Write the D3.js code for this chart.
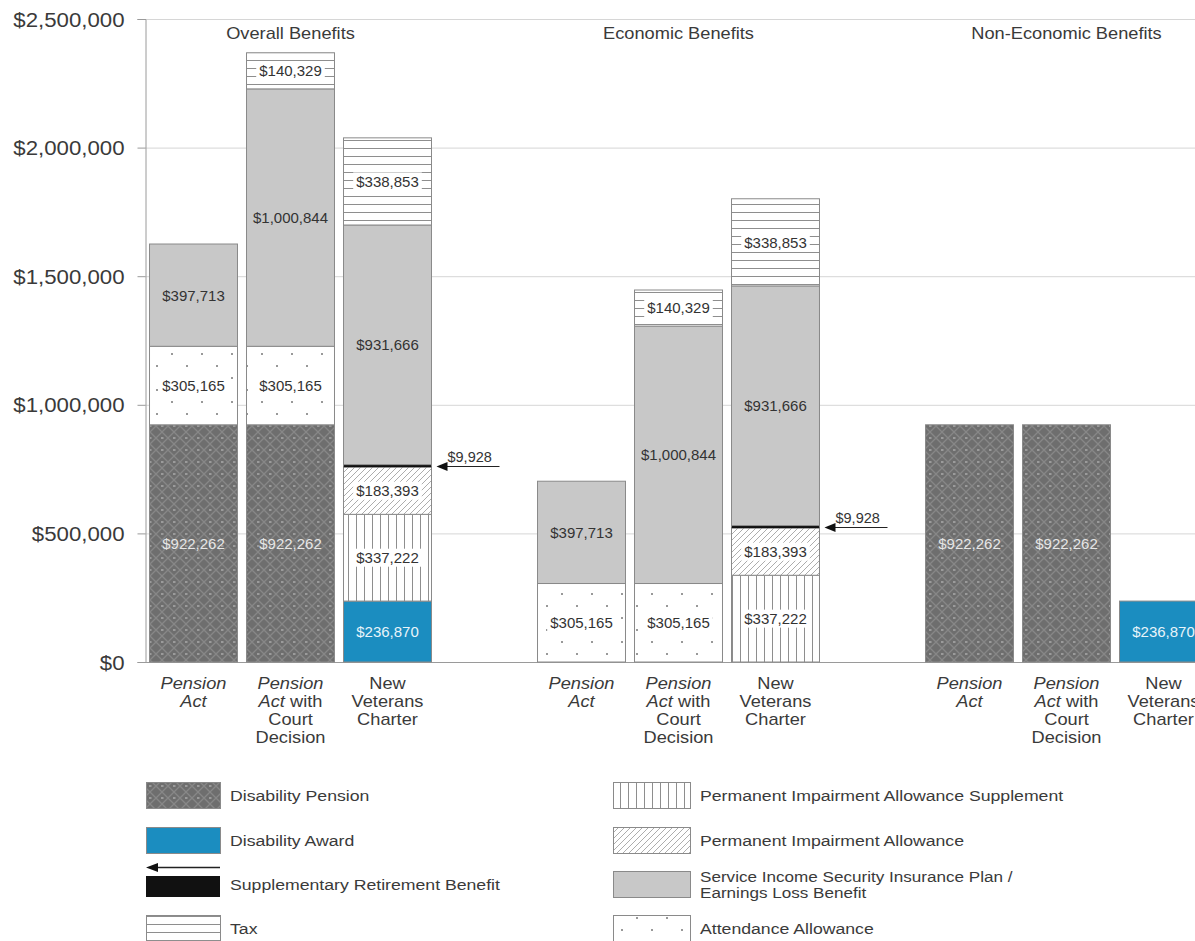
<!DOCTYPE html>
<html>
<head>
<meta charset="utf-8">
<script src="https://cdn.jsdelivr.net/npm/d3@7"></script>
<style>
  html, body { margin: 0; padding: 0; background: #fff; }
  svg { display: block; font-family: "Liberation Sans", Arial, Helvetica, sans-serif; }
</style>
</head>
<body>
<svg id="chart" width="1195" height="941"></svg>
<script>
// ---------------- DATA ----------------
const groups = ["Overall Benefits", "Economic Benefits", "Non-Economic Benefits"];
const scenarios = ["Pension Act", "Pension Act with Court Decision", "New Veterans Charter"];
const scenarioTickLines = [["Pension", "Act"], ["Pension", "Act with", "Court", "Decision"], ["New", "Veterans", "Charter"]];
const yTicks = [0, 500000, 1000000, 1500000, 2000000, 2500000];

// stacking order, bottom to top
const seriesKeys = ["dp", "da", "pias", "pia", "srb", "aa", "elb", "tax"];
const seriesNames = {
  dp: "Disability Pension",
  da: "Disability Award",
  srb: "Supplementary Retirement Benefit",
  tax: "Tax",
  pias: "Permanent Impairment Allowance Supplement",
  pia: "Permanent Impairment Allowance",
  elb: "Service Income Security Insurance Plan / Earnings Loss Benefit",
  aa: "Attendance Allowance"
};
const legendLeft = ["dp", "da", "srb", "tax"];
const legendRight = ["pias", "pia", "elb", "aa"];

// values per bar: [Overall PA, PACD, NVC, Economic PA, PACD, NVC, Non-Economic PA, PACD, NVC]
const disabilityPension       = [922262, 922262, 0,      0,      0,       0,      922262, 922262, 0];
const disabilityAward         = [0,      0,      236870, 0,      0,       0,      0,      0,      236870];
const piaSupplement           = [0,      0,      337222, 0,      0,       337222, 0,      0,      0];
const permImpairmentAllowance = [0,      0,      183393, 0,      0,       183393, 0,      0,      0];
const suppRetirementBenefit   = [0,      0,      9928,   0,      0,       9928,   0,      0,      0];
const attendanceAllowance     = [305165, 305165, 0,      305165, 305165,  0,      0,      0,      0];
const earningsLossBenefit     = [397713, 1000844, 931666, 397713, 1000844, 931666, 0,     0,      0];
const tax                     = [0,      140329, 338853, 0,      140329,  338853, 0,      0,      0];

// ---------------- BUILD ROWS ----------------
const seriesValues = { dp: disabilityPension, da: disabilityAward, pias: piaSupplement, pia: permImpairmentAllowance,
  srb: suppRetirementBenefit, aa: attendanceAllowance, elb: earningsLossBenefit, tax: tax };
const rows = [];
groups.forEach((g, gi) => scenarios.forEach((s, si) => {
  const i = gi * scenarios.length + si;
  const r = { group: g, scenario: s };
  seriesKeys.forEach(k => r[k] = seriesValues[k][i]);
  rows.push(r);
}));
const stacked = d3.stack().keys(seriesKeys)(rows);

// ---------------- SCALES ----------------
const svg = d3.select("#chart");
const W = 1195;
const plotLeft = 145, plotRight = 1195;
const y = d3.scaleLinear().domain([0, 2500000]).range([662, 19]);
const gx = d3.scaleBand().domain(groups).range([plotLeft, plotLeft + 388 * 3]).padding(0);
const sx = d3.scaleBand().domain(scenarios).range([0, 291]).paddingInner(0.093).paddingOuter(0.0465);
const barX = d => gx(d.group) + sx(d.scenario);
const STRETCH = 1.14;

// ---------------- PATTERNS ----------------
const defs = svg.append("defs");
function pat(id, w, h, bg) {
  const p = defs.append("pattern").attr("id", id).attr("patternUnits", "userSpaceOnUse")
    .attr("width", w).attr("height", h);
  p.append("rect").attr("width", w).attr("height", h).attr("fill", bg);
  return p;
}
let p;
p = pat("p-dp", 12, 12, "#6e6e6e");
p.append("path").attr("d", "M0,6L6,0L12,6L6,12Z").attr("fill", "none").attr("stroke", "#878787").attr("stroke-width", 1.3);
p.append("rect").attr("x", 5).attr("y", 5.5).attr("width", 2.5).attr("height", 1).attr("fill", "#c8c8c8");
p = pat("p-tax", 8, 8, "#ffffff");
p.append("line").attr("x1", 0).attr("x2", 8).attr("y1", 4.5).attr("y2", 4.5).attr("stroke", "#8e8e8e").attr("stroke-width", 1);
p = pat("p-pias", 8, 8, "#ffffff");
p.append("line").attr("y1", 0).attr("y2", 8).attr("x1", 4.5).attr("x2", 4.5).attr("stroke", "#8e8e8e").attr("stroke-width", 1);
p = pat("p-pia", 6, 6, "#ffffff");
p.append("path").attr("d", "M0,6L6,0M-1,1L1,-1M5,7L7,5").attr("stroke", "#adadad").attr("stroke-width", 1);
p = pat("p-aa", 30, 24, "#ffffff");
p.append("circle").attr("cx", 7).attr("cy", 6).attr("r", 1).attr("fill", "#777");
p.append("circle").attr("cx", 22).attr("cy", 18).attr("r", 1).attr("fill", "#777");

const fills = {
  dp: "url(#p-dp)", da: "#1b8dc0", pias: "url(#p-pias)", pia: "url(#p-pia)",
  srb: "#111111", aa: "url(#p-aa)", elb: "#c8c8c8", tax: "url(#p-tax)"
};
const labelColor = { dp: "#e6e6e6", da: "#e8f4fa" };
const bgLabel = { tax: true, pias: true, pia: true, aa: true };

function stext(parent, x, yy, txt, size, anchor, stretch) {
  return parent.append("text")
    .attr("transform", `translate(${x},${yy}) scale(${stretch === undefined ? STRETCH : stretch},1)`)
    .attr("text-anchor", anchor || "start")
    .style("font-size", size + "px")
    .attr("fill", "#333")
    .text(txt);
}

// ---------------- GRID & AXIS ----------------
svg.append("g").selectAll("line").data(yTicks).join("line")
  .attr("x1", plotLeft).attr("x2", plotRight)
  .attr("y1", d => y(d) + 0.5).attr("y2", d => y(d) + 0.5)
  .attr("stroke", d => d === 0 ? "#9a9a9a" : "#d6d6d6").attr("stroke-width", 1);

const yAxis = d3.axisLeft(y).tickValues(yTicks).tickFormat(d3.format("$,")).tickSize(8);
const ya = svg.append("g").attr("transform", `translate(${plotLeft + 0.5},0)`).call(yAxis);
ya.select(".domain").attr("stroke", "#9a9a9a");
ya.selectAll(".tick line").attr("stroke", "#9a9a9a");
ya.selectAll(".tick text")
  .attr("x", null).attr("dy", "0.36em")
  .attr("transform", `translate(-21,0) scale(${STRETCH},1)`)
  .style("font-size", "19.5px").attr("fill", "#3a3a3a")
  .style("font-family", "'Liberation Sans', Arial, sans-serif");

// ---------------- BARS ----------------
const barsG = svg.append("g");
stacked.forEach(layer => {
  const key = layer.key;
  layer.forEach((seg, i) => {
    const v = seg[1] - seg[0];
    if (v <= 0) return;
    const d = rows[i];
    barsG.append("rect")
      .attr("x", barX(d)).attr("width", sx.bandwidth())
      .attr("y", y(seg[1])).attr("height", y(seg[0]) - y(seg[1]))
      .attr("fill", fills[key])
      .attr("stroke", key === "srb" ? "none" : "#8a8a8a").attr("stroke-width", 1);
  });
});

// segment labels
const labelsG = svg.append("g");
stacked.forEach(layer => {
  const key = layer.key;
  if (key === "srb") return;
  layer.forEach((seg, i) => {
    const v = seg[1] - seg[0];
    if (v <= 0) return;
    const d = rows[i];
    const cx = barX(d) + sx.bandwidth() / 2;
    const cy = y((seg[0] + seg[1]) / 2);
    const t = labelsG.append("text")
      .attr("x", cx).attr("y", cy).attr("dy", "0.36em")
      .attr("text-anchor", "middle").style("font-size", "15px")
      .attr("fill", labelColor[key] || "#333")
      .text(d3.format("$,")(v));
    if (bgLabel[key]) {
      const w = t.node().getComputedTextLength();
      labelsG.insert("rect", () => t.node())
        .attr("x", cx - w / 2 - 3).attr("y", cy - 9).attr("width", w + 6).attr("height", 18)
        .attr("fill", "#fff");
    }
  });
});

// SRB arrow annotations
const srbLayer = stacked.find(l => l.key === "srb");
const annG = svg.append("g");
srbLayer.forEach((seg, i) => {
  const v = seg[1] - seg[0];
  if (v <= 0) return;
  const d = rows[i];
  const right = barX(d) + sx.bandwidth();
  const ly = Math.round(y((seg[0] + seg[1]) / 2)) + 0.5;
  annG.append("line").attr("x1", right + 8).attr("x2", right + 68).attr("y1", ly).attr("y2", ly)
    .attr("stroke", "#222").attr("stroke-width", 1.2);
  annG.append("path").attr("d", `M${right + 5},${ly}L${right + 16},${ly - 4.5}L${right + 16},${ly + 4.5}Z`).attr("fill", "#111");
  annG.append("text").attr("x", right + 16).attr("y", ly - 5)
    .style("font-size", "14.5px").attr("fill", "#333")
    .text(d3.format("$,")(v));
});

// ---------------- GROUP TITLES ----------------
groups.forEach(g => {
  stext(svg, gx(g) + 145.5, 39, g, 16, "middle").attr("fill", "#3a3a3a");
});

// ---------------- X LABELS ----------------
const italicWords = new Set(["Pension", "Act"]);
groups.forEach(g => scenarios.forEach((s, si) => {
  const cx = gx(g) + sx(s) + sx.bandwidth() / 2;
  scenarioTickLines[si].forEach((line, li) => {
    const t = stext(svg, cx, 689 + li * 18, null, 16, "middle").attr("fill", "#3a3a3a");
    line.split(" ").forEach((w, wi, arr) => {
      t.append("tspan").style("font-style", italicWords.has(w) ? "italic" : "normal")
        .text(w + (wi < arr.length - 1 ? " " : ""));
    });
  });
}));

// ---------------- LEGEND ----------------
const legRowY = [795, 840, 884, 928];
function legendSwatch(g, key, x, cy, w) {
  if (key === "srb") {
    g.append("line").attr("x1", x + 8).attr("x2", x + w).attr("y1", cy - 16.5).attr("y2", cy - 16.5)
      .attr("stroke", "#222").attr("stroke-width", 1.3);
    g.append("path").attr("d", `M${x},${cy - 16.5}L${x + 12},${cy - 21}L${x + 12},${cy - 12}Z`).attr("fill", "#111");
    g.append("rect").attr("x", x).attr("y", cy - 8).attr("width", w).attr("height", 21).attr("fill", "#111");
  } else {
    g.append("rect").attr("x", x + 0.5).attr("y", cy - 13 + 0.5).attr("width", w).attr("height", 26)
      .attr("fill", fills[key]).attr("stroke", "#8a8a8a").attr("stroke-width", 1);
  }
}
const legG = svg.append("g");
legendLeft.forEach((k, i) => {
  legendSwatch(legG, k, 146, legRowY[i], 74);
  stext(legG, 230, legRowY[i] + 6, seriesNames[k], 15.5, "start").attr("fill", "#3a3a3a");
});
legendRight.forEach((k, i) => {
  legendSwatch(legG, k, 613, legRowY[i], 77);
  const name = seriesNames[k];
  if (name.includes(" / ")) {
    const parts = name.split(" / ");
    stext(legG, 700, legRowY[i] - 2, parts[0] + " /", 15, "start").attr("fill", "#3a3a3a");
    stext(legG, 700, legRowY[i] + 14, parts[1], 15, "start").attr("fill", "#3a3a3a");
  } else {
    stext(legG, 700, legRowY[i] + 6, name, 15.5, "start").attr("fill", "#3a3a3a");
  }
});
</script>
</body>
</html>
